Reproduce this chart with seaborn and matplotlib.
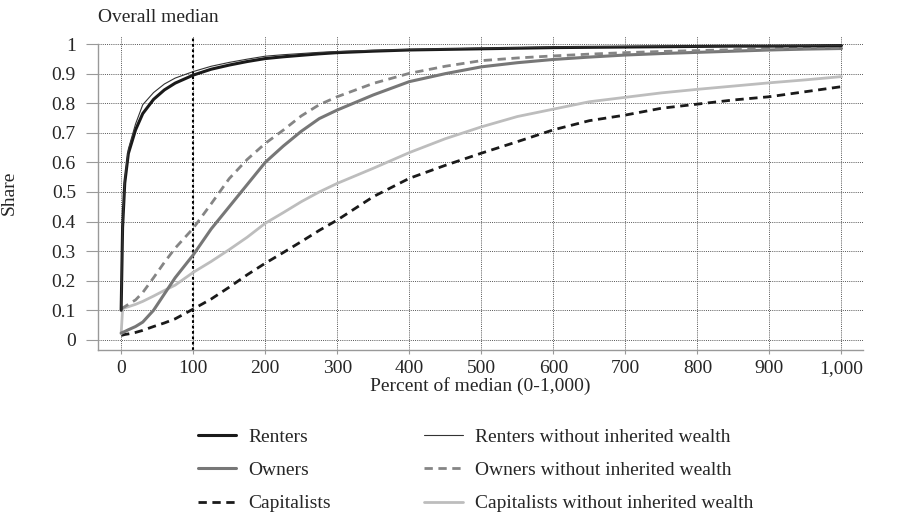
import numpy as np
import pandas as pd
import seaborn as sns
import matplotlib
matplotlib.use("Agg")
import matplotlib.pyplot as plt
from matplotlib.lines import Line2D

# percent of the overall median, shared by all six curves
pct = [0, 2, 5, 10, 20, 30, 45, 60, 75, 100, 125, 150, 175, 200, 225, 250,
       275, 300, 350, 400, 450, 500, 550, 600, 650, 700, 750, 800, 850, 900,
       950, 1000]

renters = [0.10, 0.38, 0.53, 0.63, 0.71, 0.765, 0.813, 0.845, 0.868, 0.895,
           0.915, 0.929, 0.941, 0.951, 0.957, 0.962, 0.967, 0.971, 0.976, 0.98,
           0.982, 0.984, 0.986, 0.988, 0.989, 0.99, 0.991, 0.992, 0.993, 0.993,
           0.994, 0.995]
renters_noinh = [0.10, 0.38, 0.54, 0.645, 0.73, 0.795, 0.836, 0.865, 0.885, 0.907,
                 0.925, 0.938, 0.949, 0.959, 0.964, 0.968, 0.972, 0.975, 0.979, 0.982,
                 0.984, 0.986, 0.988, 0.99, 0.991, 0.992, 0.993, 0.993, 0.994, 0.994,
                 0.995, 0.996]
owners = [0.023, 0.025, 0.028, 0.034, 0.045, 0.06, 0.10, 0.155, 0.21, 0.287,
          0.375, 0.45, 0.525, 0.60, 0.655, 0.705, 0.748, 0.777, 0.828, 0.873,
          0.90, 0.923, 0.937, 0.948, 0.956, 0.963, 0.968, 0.972, 0.976, 0.98,
          0.983, 0.985]
owners_noinh = [0.105, 0.108, 0.112, 0.12, 0.135, 0.16, 0.21, 0.262, 0.31, 0.377,
                0.46, 0.545, 0.61, 0.664, 0.709, 0.757, 0.795, 0.822, 0.867, 0.901,
                0.925, 0.944, 0.953, 0.96, 0.966, 0.971, 0.975, 0.978, 0.981, 0.984,
                0.987, 0.989]
capitalists = [0.015, 0.016, 0.018, 0.02, 0.025, 0.032, 0.045, 0.057, 0.071, 0.104,
               0.138, 0.178, 0.22, 0.259, 0.295, 0.332, 0.37, 0.405, 0.484, 0.546,
               0.59, 0.631, 0.67, 0.71, 0.741, 0.76, 0.783, 0.797, 0.811, 0.822,
               0.839, 0.856]
capitalists_noinh = [0.02, 0.105, 0.108, 0.112, 0.12, 0.13, 0.148, 0.167, 0.185, 0.228,
                     0.265, 0.305, 0.347, 0.394, 0.43, 0.467, 0.50, 0.529, 0.58, 0.633,
                     0.68, 0.72, 0.755, 0.78, 0.805, 0.82, 0.835, 0.847, 0.858, 0.869,
                     0.879, 0.89]

x_ticks = list(range(0, 1001, 100))
x_ticklabels = ["0", "100", "200", "300", "400", "500", "600", "700", "800", "900", "1,000"]
y_ticks = [round(0.1 * i, 1) for i in range(11)]
y_ticklabels = ["0", "0.1", "0.2", "0.3", "0.4", "0.5", "0.6", "0.7", "0.8", "0.9", "1"]

sns.set_style("white")
plt.rcParams["font.family"] = ["Liberation Serif", "DejaVu Serif"]

dash = (0, (3, 2))
# label, values, colour, width, linestyle
series = [
    ("Renters", renters, "#1a1a1a", 2.2, "-"),
    ("Owners", owners, "#777777", 2.2, "-"),
    ("Capitalists", capitalists, "#1a1a1a", 2.0, dash),
    ("Renters without inherited wealth", renters_noinh, "#333333", 0.8, "-"),
    ("Owners without inherited wealth", owners_noinh, "#858585", 2.0, dash),
    ("Capitalists without inherited wealth", capitalists_noinh, "#bdbdbd", 2.0, "-"),
]

fig = plt.figure(figsize=(9, 5.23), dpi=100)
ax = fig.add_axes([0.109, 0.331, 0.85, 0.60])

# draw order: thin renters line on top of the thick one
draw_order = [2, 5, 1, 4, 0, 3]
for i in draw_order:
    name, vals, col, lw, ls = series[i]
    df = pd.DataFrame({"pct": pct, "share": vals})
    sns.lineplot(data=df, x="pct", y="share", ax=ax, color=col,
                 linewidth=lw, linestyle=ls, legend=False)

ax.axvline(100, color="black", linewidth=1.5, linestyle=(0, (1.3, 1.3)), zorder=1)

ax.set_xlim(-32, 1030)
ax.set_ylim(-0.034, 1.027)
ax.set_xticks(x_ticks)
ax.set_xticklabels(x_ticklabels)
ax.set_yticks(y_ticks)
ax.set_yticklabels(y_ticklabels)
ax.grid(True, color="#555555", linewidth=0.7, linestyle=(0, (1, 1.2)))
ax.set_axisbelow(True)

for s in ["top", "right"]:
    ax.spines[s].set_visible(False)
for s in ["left", "bottom"]:
    ax.spines[s].set_color("#999999")
    ax.spines[s].set_linewidth(1.0)
ax.spines["left"].set_bounds(-0.034, 1.0)

ax.tick_params(axis="y", left=True, length=9, width=0.8, color="#999999",
               pad=7, labelsize=14)
ax.tick_params(axis="x", bottom=True, length=3, width=0.8, color="#999999",
               pad=4, labelsize=14)

ax.set_xlabel("Percent of median (0-1,000)", fontsize=14, labelpad=0)
ax.set_ylabel("Share", fontsize=14, labelpad=24)

fig.text(98 / 900, 1 - 18 / 523, "Overall median", fontsize=14,
         ha="left", va="center")

handles = [Line2D([0], [0], color=c, linewidth=lw, linestyle=ls)
           for _, _, c, lw, ls in series]
labels = [s[0] for s in series]
fig.legend(handles, labels, ncol=2, frameon=False, fontsize=14,
           loc="upper left", bbox_to_anchor=(180 / 900, 1 - 411 / 523),
           handlelength=2.0, handletextpad=0.6, columnspacing=4.8,
           labelspacing=0.8)

fig.savefig("out.png", dpi=100)
